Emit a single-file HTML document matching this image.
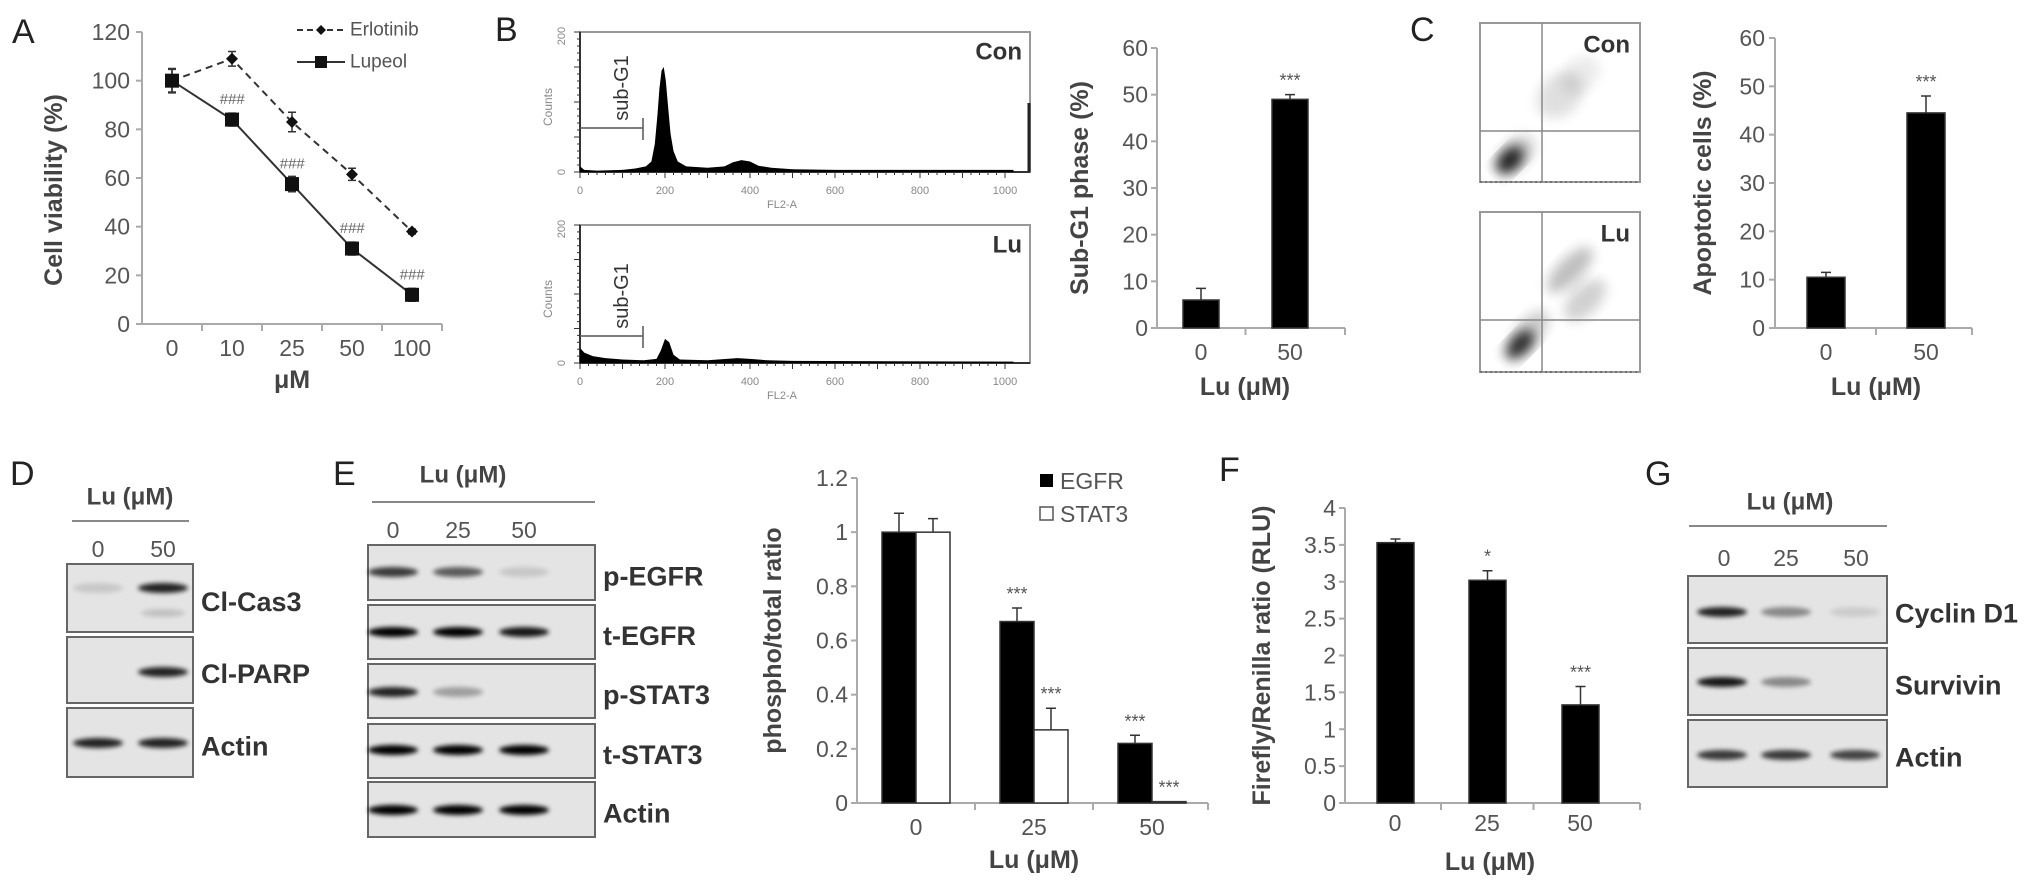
<!DOCTYPE html>
<html><head><meta charset="utf-8"><style>
html,body{margin:0;padding:0;background:#fff;}
svg{display:block;font-family:"Liberation Sans",Arial,sans-serif;}
.tk{fill:#555;font-size:23px;}
.ttl{fill:#444;font-size:25px;font-weight:bold;}
.pl{fill:#222;font-size:34px;}
.bl{fill:#333;font-size:27px;font-weight:bold;}
.ax{stroke:#aaa;stroke-width:2;fill:none;}
.box{fill:#e4e4e4;stroke:#666;stroke-width:2;}
</style></head><body>
<svg id="fig" width="2031" height="892" viewBox="0 0 2031 892">
<defs>
<filter id="bl" x="-30%" y="-100%" width="160%" height="300%"><feGaussianBlur stdDeviation="2.5"/></filter>
<filter id="bl2" x="-30%" y="-30%" width="160%" height="160%"><feGaussianBlur stdDeviation="6"/></filter>
</defs>
<g id="root"></g>
</svg>
<script>
// ---- Panel A data ----
const aCats = ["0","10","25","50","100"];
const aErl = [100,109,83,61.5,38];
const aErlErr = [5,3,4,2.5,1];
const aLup = [100,84,57.5,31,12];
const aLupErr = [3,1,1.5,1,1];
const aTicks = [0,20,40,60,80,100,120];
// ---- Panel B histogram data [FL2-A, counts] ----
const bConHist = [[0,8],[10,3],[40,2],[100,3],[130,5],[155,8],[168,15],[176,40],[182,80],[187,120],[192,145],[197,150],[202,130],[207,95],[213,55],[220,30],[230,15],[250,8],[300,6],[340,8],[360,14],[380,17],[400,15],[420,9],[450,6],[500,4],[600,3],[800,3],[1000,3],[1020,3]];
const bLuHist = [[0,22],[10,15],[30,10],[60,7],[100,5],[150,4],[180,6],[190,18],[200,35],[210,30],[220,12],[235,5],[300,4],[370,7],[400,6],[440,4],[500,3],[1020,2]];
const histXTicks = [0,200,400,600,800,1000];
// ---- Panel B bar ----
const bCats = ["0","50"];
const bVals = [6,49];
const bErr = [2.5,1];
const bTicks = [0,10,20,30,40,50,60];
// ---- Panel C bar ----
const cCats = ["0","50"];
const cVals = [10.5,44.5];
const cErr = [1,3.5];
const cTicks = [0,10,20,30,40,50,60];
// ---- Panel E bar ----
const eCats = ["0","25","50"];
const eEgfr = [1,0.67,0.22];
const eEgfrErr = [0.07,0.05,0.03];
const eStat = [1,0.27,0.005];
const eStatErr = [0.05,0.08,0];
const eEgfrSig = ["","***","***"];
const eStatSig = ["","***","***"];
const eTicks = [0,0.2,0.4,0.6,0.8,1,1.2];
const eTickLabels = ["0","0.2","0.4","0.6","0.8","1","1.2"];
// ---- Panel F bar ----
const fCats = ["0","25","50"];
const fVals = [3.53,3.02,1.33];
const fErr = [0.05,0.13,0.25];
const fSig = ["","*","***"];
const fTicks = [0,0.5,1,1.5,2,2.5,3,3.5,4];

const NS="http://www.w3.org/2000/svg";
const root=document.getElementById('root');
function el(tag,attrs,parent,txt){const e=document.createElementNS(NS,tag);for(const k in attrs)e.setAttribute(k,attrs[k]);if(txt!==undefined)e.textContent=txt;(parent||root).appendChild(e);return e;}
function grp(name){const g=el('g',{});return g;}
function txt(g,x,y,s,cls,anchor,extra){const t=el('text',Object.assign({x:x,y:y,class:cls,'text-anchor':anchor||'middle','dominant-baseline':'central'},extra||{}),g,s);return t;}
function vtitle(g,x,y,s,cls){return txt(g,x,y,s,cls,'middle',{transform:`rotate(-90 ${x} ${y})`});}

// Panel letters
[["A",12,32],["B",495,30],["C",1410,30],["D",10,474],["E",333,474],["F",1219,470],["G",1645,474]].forEach(p=>{
  const g=grp('panel-label-'+p[0].toLowerCase()); txt(g,p[1],p[2],p[0],'pl','start');
});

// ---------- Panel A ----------
(function(){
  const g=grp('panel-a-line-chart');
  const xA=i=>172+60*i, yA=v=>324-v*292/120;
  const ax=grp('a-axes'); g.appendChild(ax);
  el('line',{x1:142,y1:32,x2:142,y2:324,class:'ax'},ax);
  el('line',{x1:142,y1:324,x2:442,y2:324,class:'ax'},ax);
  aTicks.forEach(v=>{el('line',{x1:136,y1:yA(v),x2:142,y2:yA(v),class:'ax'},ax);txt(ax,130,yA(v),String(v),'tk','end');});
  aCats.forEach((c,i)=>{txt(ax,xA(i),348,c,'tk');if(i>0)el('line',{x1:xA(i)-30,y1:324,x2:xA(i)-30,y2:331,class:'ax'},ax);});
  el('line',{x1:442,y1:324,x2:442,y2:331,class:'ax'},ax);
  txt(ax,292,380,'μM','ttl');
  vtitle(ax,54,190,'Cell viability (%)','ttl');
  const e=grp('erlotinib-series'); g.appendChild(e);
  el('polyline',{points:aErl.map((v,i)=>xA(i)+','+yA(v)).join(' '),fill:'none',stroke:'#333','stroke-width':2,'stroke-dasharray':'7,5'},e);
  aErl.forEach((v,i)=>{const x=xA(i),y=yA(v),d=aErlErr[i]*292/120;
    el('path',{d:`M${x},${y-d}V${y+d}M${x-4},${y-d}H${x+4}M${x-4},${y+d}H${x+4}`,stroke:'#333','stroke-width':1.5},e);
    const m=el('path',{d:`M${x},${y-6}L${x+6},${y}L${x},${y+6}L${x-6},${y}Z`,fill:'#111'},e);
    
    
  });
  const l=grp('lupeol-series'); g.appendChild(l);
  el('polyline',{points:aLup.map((v,i)=>xA(i)+','+yA(v)).join(' '),fill:'none',stroke:'#333','stroke-width':2},l);
  aLup.forEach((v,i)=>{const x=xA(i),y=yA(v),d=aLupErr[i]*292/120;
    el('path',{d:`M${x},${y-d-4}V${y+d+4}M${x-4},${y-d-4}H${x+4}M${x-4},${y+d+4}H${x+4}`,stroke:'#333','stroke-width':1.5},l);
    const m=el('rect',{x:x-7,y:y-7,width:14,height:14,fill:'#111'},l);
    
    
    if(i>0) txt(l,x,y-20,'###','tk','middle',{style:'font-size:15px;font-style:italic;fill:#666'});
  });
  const lg=grp('a-legend'); g.appendChild(lg);
  el('line',{x1:297,y1:30,x2:345,y2:30,stroke:'#333','stroke-width':2,'stroke-dasharray':'6,4'},lg);
  el('path',{d:'M321,25L326,30L321,35L316,30Z',fill:'#111'},lg);
  txt(lg,350,30,'Erlotinib','tk','start',{style:'font-size:19px'});
  el('line',{x1:297,y1:62,x2:345,y2:62,stroke:'#333','stroke-width':2},lg);
  el('rect',{x:315,y:56,width:12,height:12,fill:'#111'},lg);
  txt(lg,350,62,'Lupeol','tk','start',{style:'font-size:19px'});
})();

// ---------- Panel B histograms ----------
function histo(name,data,top,bottom,tag,subY){
  const g=grp(name);
  const x0=580,xs=0.425,h=bottom-top;
  const xH=v=>x0+v*xs, yH=c=>bottom-c*h/200;
  el('rect',{x:x0,y:top,width:450,height:h,fill:'none',stroke:'#999','stroke-width':2},g);
  el('line',{x1:x0,y1:top,x2:x0,y2:bottom,stroke:'#333','stroke-width':2},g);
  el('line',{x1:x0,y1:bottom,x2:1030,y2:bottom,stroke:'#333','stroke-width':2},g);
  for(let k=0;k<=50;k++){const xx=xH(k*20);el('line',{x1:xx,y1:bottom,x2:xx,y2:bottom+(k%5==0?6:3),stroke:'#333','stroke-width':1},g);}
  for(let k=0;k<=20;k++){const yy=bottom-k*h/20;el('line',{x1:x0-(k%5==0?6:3),y1:yy,x2:x0,y2:yy,stroke:'#333','stroke-width':1},g);}
  const pts=data.map(p=>xH(p[0])+','+yH(p[1])).join(' ');
  const a=el('polygon',{points:`${x0},${bottom} ${pts} ${xH(1020)},${bottom}`,fill:'#000'},g);
  
  
  histXTicks.forEach(v=>txt(g,xH(v),bottom+19,String(v),'tk','middle',{style:'font-size:11px;fill:#888'}));
  txt(g,782,bottom+33,'FL2-A','tk','middle',{style:'font-size:11px;fill:#888'});
  vtitle(g,562,top+4,'200','tk');g.lastChild.setAttribute('style','font-size:11px;fill:#888');
  vtitle(g,562,bottom,'0','tk');g.lastChild.setAttribute('style','font-size:11px;fill:#888');
  vtitle(g,548,top+h/2+5,'Counts','tk');g.lastChild.setAttribute('style','font-size:12px;fill:#888');
  el('path',{d:`M${x0},${subY}H643M643,${subY-10}V${subY+12}`,stroke:'#555','stroke-width':1.5,fill:'none'},g);
  vtitle(g,622,subY-40,'sub-G1','bl');g.lastChild.setAttribute('style','font-size:20px;font-weight:normal');
  txt(g,1022,top+20,tag,'bl','end',{style:'font-size:24px'});
  return g;
}
const hc=histo('histogram-con',bConHist,32,172,'Con',128);
el('line',{x1:1029,y1:103,x2:1029,y2:172,stroke:'#222','stroke-width':3},hc);
histo('histogram-lu',bLuHist,225,363,'Lu',336);

// ---------- generic bar chart ----------
function barAxes(g,axX,top,bottom,xEnd,ticks,labels,yf,tickR,titleX,title,cats,centers,labY,titleY,lblX){
  el('line',{x1:axX,y1:top,x2:axX,y2:bottom,class:'ax'},g);
  el('line',{x1:axX,y1:bottom,x2:xEnd,y2:bottom,class:'ax'},g);
  ticks.forEach((v,i)=>{el('line',{x1:axX-6,y1:yf(v),x2:axX,y2:yf(v),class:'ax'},g);txt(g,tickR,yf(v),labels?labels[i]:String(v),'tk','end');});
  cats.forEach((c,i)=>{txt(g,centers[i],labY,c,'tk');});
  for(let i=1;i<centers.length;i++){const m=(centers[i-1]+centers[i])/2;el('line',{x1:m,y1:bottom,x2:m,y2:bottom+7,class:'ax'},g);}
  el('line',{x1:xEnd,y1:bottom,x2:xEnd,y2:bottom+7,class:'ax'},g);
  txt(g,lblX,titleY,'Lu (μM)','ttl');
  vtitle(g,titleX,(top+bottom)/2,title,'ttl');
}
function bar(g,name,x,w,v,err,yf,fill,sig){
  const y=yf(v),b=yf(0),ye=yf(v+err);
  if(err>0) el('path',{d:`M${x+w/2},${y}V${ye}M${x+w/2-5},${ye}H${x+w/2+5}`,stroke:'#333','stroke-width':1.5},g);
  const r=el('rect',{x:x,y:y,width:w,height:Math.max(b-y,0.5),fill:fill,stroke:'#333','stroke-width':1.5},g);
  
  
  if(sig) txt(g,x+w/2,ye-14,sig,'tk','middle',{style:'font-size:18px;fill:#555'});
}
(function(){
  const g=grp('panel-b-bar-chart');
  const yf=v=>328-v*280/60, centers=[1201,1290];
  barAxes(g,1157,48,328,1345,bTicks,null,yf,1148,1080,'Sub-G1 phase (%)',bCats,centers,352,387,1245);
  bVals.forEach((v,i)=>bar(g,'bar-subg1-'+bCats[i],centers[i]-18,36,v,bErr[i],yf,'#000',i==1?'***':''));
})();
(function(){
  const g=grp('panel-c-bar-chart');
  const yf=v=>328-v*290/60, centers=[1826,1926];
  barAxes(g,1775,38,328,1972,cTicks,null,yf,1765,1703,'Apoptotic cells (%)',cCats,centers,352,387,1876);
  cVals.forEach((v,i)=>bar(g,'bar-apoptotic-'+cCats[i],centers[i]-19,38,v,cErr[i],yf,'#000',i==1?'***':''));
})();
function scatter(name,top,bottom,tag,hy,clusters){
  const g=grp(name);
  el('rect',{x:1480,y:top,width:160,height:bottom-top,fill:'#fff',stroke:'#999','stroke-width':2},g);
  clusters.forEach(c=>el('ellipse',{cx:c[0],cy:c[1],rx:c[2],ry:c[3],fill:'#000',opacity:c[4],filter:'url(#bl2)',transform:`rotate(-45 ${c[0]} ${c[1]})`},g));
  el('line',{x1:1542,y1:top,x2:1542,y2:bottom,stroke:'#888','stroke-width':1.5},g);
  el('line',{x1:1480,y1:hy,x2:1640,y2:hy,stroke:'#888','stroke-width':1.5},g);
  el('line',{x1:1480,y1:bottom,x2:1640,y2:bottom,stroke:'#666','stroke-width':1.5,'stroke-dasharray':'2,3'},g);
  txt(g,1630,top+22,tag,'bl','end',{style:'font-size:24px'});
}
scatter('scatter-con',23,182,'Con',131,[[1510,160,16,10,0.85],[1515,155,24,14,0.2],[1560,95,26,20,0.12],[1580,75,22,16,0.08]]);
scatter('scatter-lu',212,372,'Lu',320,[[1520,345,18,10,0.8],[1570,270,30,12,0.25],[1585,300,26,14,0.18],[1530,330,24,12,0.2]]);

// ---------- Blots ----------
function blot(name,x0,x1,rows,lanes){
  const g=grp(name);
  rows.forEach(r=>{
    const bx=el('rect',{x:x0,y:r.top,width:x1-x0,height:r.h,class:'box'},g);
    
    
    r.bands.forEach((o,i)=>{ if(o>0) el('ellipse',{cx:lanes[i],cy:r.by,rx:25,ry:5,fill:'#000',opacity:o,filter:'url(#bl)'},g); });
    if(r.extra) r.extra.forEach(e=>el('ellipse',{cx:e[0],cy:e[1],rx:22,ry:4,fill:'#000',opacity:e[2],filter:'url(#bl)'},g));
    txt(g,x1+8,r.top+r.h/2+4,r.label,'bl','start');
  });
  return g;
}
function header(name,cx,ty,lx0,lx1,ly,lanes,labs,ny){
  const g=grp(name);
  txt(g,cx,ty,'Lu (μM)','bl','middle',{style:'font-size:24px;fill:#444'});
  el('line',{x1:lx0,y1:ly,x2:lx1,y2:ly,stroke:'#888','stroke-width':2},g);
  labs.forEach((l,i)=>txt(g,lanes[i],ny,l,'tk'));
}
header('d-header',130,497,72,189,521,[98,163],["0","50"],549);
blot('panel-d-blots',67,193,[
  {top:564,h:68,by:588,bands:[0.12,0.85],label:'Cl-Cas3',extra:[[163,613,0.15]]},
  {top:637,h:66,by:672,bands:[0,0.85],label:'Cl-PARP'},
  {top:708,h:69,by:743,bands:[0.85,0.85],label:'Actin'}],[98,163]);
header('e-header',463,475,372,595,502,[393,458,524],["0","25","50"],530);
blot('panel-e-blots',368,595,[
  {top:545,h:55,by:572,bands:[0.75,0.6,0.12],label:'p-EGFR'},
  {top:605,h:54,by:632,bands:[1,1,0.9],label:'t-EGFR'},
  {top:664,h:54,by:692,bands:[0.85,0.3,0],label:'p-STAT3'},
  {top:724,h:54,by:750,bands:[1,1,1],label:'t-STAT3'},
  {top:782,h:55,by:810,bands:[1,1,1],label:'Actin'}],[393,458,524]);
header('g-header',1790,502,1689,1887,526,[1724,1786,1856],["0","25","50"],558);
blot('panel-g-blots',1688,1887,[
  {top:576,h:67,by:612,bands:[0.85,0.4,0.1],label:'Cyclin D1'},
  {top:648,h:67,by:682,bands:[0.9,0.4,0],label:'Survivin'},
  {top:720,h:67,by:755,bands:[0.75,0.75,0.7],label:'Actin'}],[1722,1786,1855]);

// ---------- Panel E bar ----------
(function(){
  const g=grp('panel-e-bar-chart');
  const yf=v=>803-v*325/1.2, centers=[916,1034,1152];
  barAxes(g,857,478,803,1208,eTicks,eTickLabels,yf,848,773,'phospho/total ratio',eCats,centers,827,860,1034);
  eCats.forEach((c,i)=>{
    bar(g,'bar-egfr-'+c,centers[i]-34,34,eEgfr[i],eEgfrErr[i],yf,'#000',eEgfrSig[i]);
    bar(g,'bar-stat3-'+c,centers[i],34,eStat[i],eStatErr[i],yf,'#fff',eStatSig[i]);
  });
  const lg=grp('e-legend'); g.appendChild(lg);
  el('rect',{x:1040,y:474,width:13,height:13,fill:'#000'},lg);
  txt(lg,1060,481,'EGFR','tk','start');
  el('rect',{x:1040,y:507,width:13,height:13,fill:'#fff',stroke:'#555','stroke-width':1.5},lg);
  txt(lg,1060,514,'STAT3','tk','start');
})();
// ---------- Panel F bar ----------
(function(){
  const g=grp('panel-f-bar-chart');
  const yf=v=>803-v*295/4, centers=[1395,1487,1580];
  barAxes(g,1345,508,803,1640,fTicks,null,yf,1336,1262,'Firefly/Renilla ratio (RLU)',fCats,centers,823,862,1490);
  fVals.forEach((v,i)=>bar(g,'bar-ratio-'+fCats[i],centers[i]-18,37,v,fErr[i],yf,'#000',fSig[i]));
})();
</script>
</body></html>
